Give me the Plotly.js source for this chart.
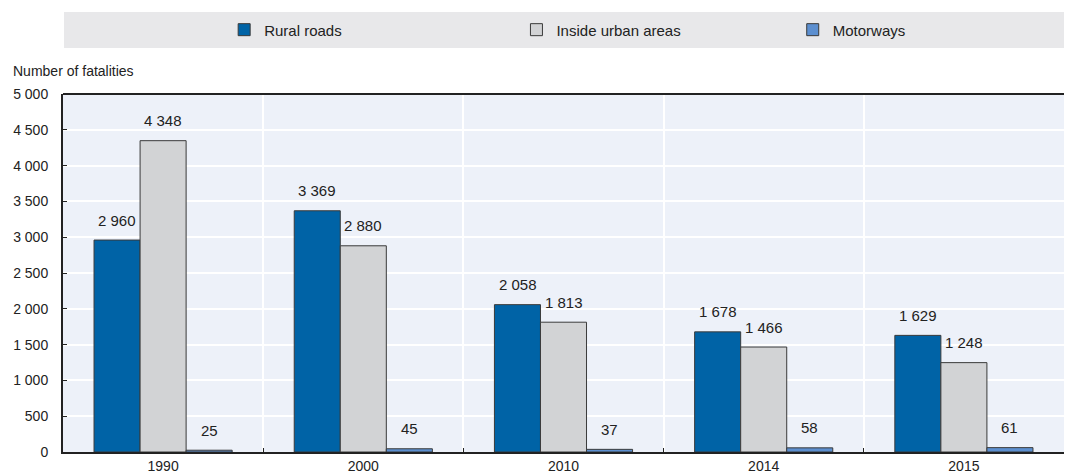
<!DOCTYPE html>
<html><head><meta charset="utf-8">
<script src="https://cdn.plot.ly/plotly-3.0.1.min.js"></script>
<style>body{margin:0;background:#fff}#chart{width:1074px;height:474px}</style>
</head><body><div id="chart"></div>
<script>
const years = ['1990','2000','2010','2014','2015'];
const rural = [2960, 3369, 2058, 1678, 1629];
const urban = [4348, 2880, 1813, 1466, 1248];
const motorways = [25, 45, 37, 58, 61];
const seriesNames = ['Rural roads','Inside urban areas','Motorways'];
const yTickVals = [0,500,1000,1500,2000,2500,3000,3500,4000,4500,5000];

const FONT = 'Liberation Sans, Arial, sans-serif';
const colors = ['#0063A6','#D2D3D5','#5C8FD0'];
const vals = [rural, urban, motorways];
const legendIds = ['legend','legend2','legend3'];
const fmt = v => v >= 1000 ? Math.floor(v/1000) + ' ' + String(v%1000).padStart(3,'0') : String(v);

const traces = vals.map((v,i)=>({
  type:'bar', x:years, y:v, name:seriesNames[i], legend:legendIds[i],
  marker:{color:colors[i], line:{color:'#3a3a3a', width:1}},
  hoverinfo:'x+y+name'
}));

const annotations = [];
const shifts = [-46, 0, 46];
vals.forEach((v,i)=>{
  v.forEach((val,j)=>{
    annotations.push({xref:'x', yref:'y', x:j, y:val, xshift:shifts[i], yshift:20,
      text:fmt(val), showarrow:false, yanchor:'middle', font:{family:FONT, size:15, color:'#222'}});
  });
});
annotations.push({xref:'paper', yref:'paper', x:-0.052, y:1.035, xanchor:'left', yanchor:'bottom',
  text:'Number of fatalities', showarrow:false, font:{family:FONT, size:14, color:'#222'}});

const legBase = {orientation:'h', yanchor:'middle', y:1.179, xanchor:'left', bgcolor:'rgba(0,0,0,0)',
  font:{family:FONT, size:15, color:'#222'}, itemwidth:20, tracegroupgap:0};
const legendXs = [0.161, 0.453, 0.729];

const layout = {
  width:1074, height:474,
  margin:{l:63, r:10, t:94, b:22},
  paper_bgcolor:'#fff', plot_bgcolor:'#EDF1F9',
  separators:'. ',
  font:{family:FONT, size:14, color:'#222'},
  barmode:'group', bargap:0.31, bargroupgap:0,
  showlegend:true,
  legend:Object.assign({}, legBase, {x:legendXs[0]}),
  legend2:Object.assign({}, legBase, {x:legendXs[1]}),
  legend3:Object.assign({}, legBase, {x:legendXs[2]}),
  xaxis:{type:'category', tickson:'boundaries', showgrid:true, gridcolor:'#fff', gridwidth:1.5,
    ticks:'inside', ticklen:4, tickcolor:'#222', showline:true, linecolor:'#222', linewidth:2,
    range:[-0.5, 4.5], autorange:false,
    tickfont:{family:FONT, size:14, color:'#222'}},
  yaxis:{range:[0,5000], autorange:false, tickvals:yTickVals, ticktext:yTickVals.map(fmt),
    showgrid:true, gridcolor:'#fff', gridwidth:1.5, zeroline:false, ticklabelstandoff:10,
    ticks:'inside', ticklen:4, tickcolor:'#222', showline:true, linecolor:'#222', linewidth:2,
    tickfont:{family:FONT, size:14, color:'#222'}},
  shapes:[
    {type:'rect', xref:'paper', yref:'paper', x0:0.001, x1:1, y0:1.1285, y1:1.229, fillcolor:'#E8E8EA', line:{width:0}, layer:'below'},
    {type:'line', xref:'paper', yref:'paper', x0:0, x1:1, y0:1, y1:1, line:{color:'#222', width:2}}
  ],
  annotations:annotations
};
Plotly.newPlot('chart', traces, layout, {displayModeBar:false});
</script></body></html>
